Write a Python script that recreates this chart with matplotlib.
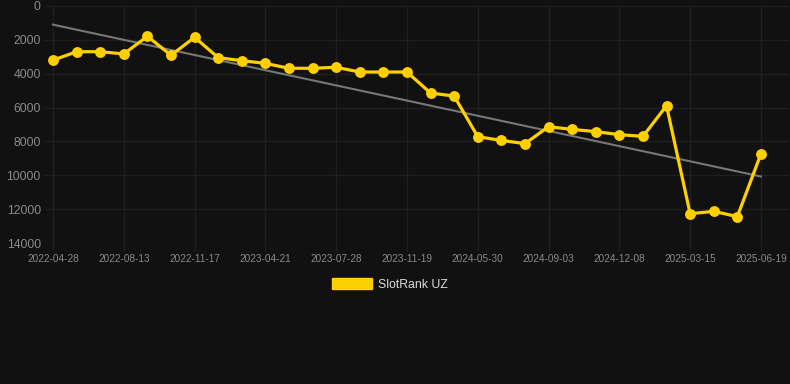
"""SlotRank UZ rank history with linear trend, dark theme."""
import matplotlib.pyplot as plt
import numpy as np
from matplotlib.patches import Patch

BG = "#111111"
GRID = "#1f1f1f"
TICK_TEXT = "#8a8a8a"
LINE_COLOR = "#ffd000"
TREND_COLOR = "#777777"

plt.rcParams["font.family"] = ["Liberation Sans", "DejaVu Sans"]

# one sample per category slot
ranks = [3200, 2700, 2700, 2830, 1790, 2910, 1850, 3050, 3230, 3390,
         3680, 3680, 3620, 3900, 3900, 3900, 5140, 5320, 7720, 7940,
         8130, 7130, 7290, 7420, 7600, 7700, 5890, 12270, 12130, 12440,
         8740]
tick_labels = ["2022-04-28", "2022-08-13", "2022-11-17", "2023-04-21",
               "2023-07-28", "2023-11-19", "2024-05-30", "2024-09-03",
               "2024-12-08", "2025-03-15", "2025-06-19"]
y_ticks = [0, 2000, 4000, 6000, 8000, 10000, 12000, 14000]


def main():
    idx = np.arange(len(ranks))
    slope, icpt = np.polyfit(idx, ranks, 1)

    fig = plt.figure(figsize=(7.9, 3.84), dpi=100, facecolor=BG)
    ax = fig.add_axes([45 / 790, 1 - 243 / 384, 744 / 790, 237 / 384])
    ax.set_facecolor(BG)
    for spine in ax.spines.values():
        spine.set_visible(False)

    ax.plot(idx, slope * idx + icpt, color=TREND_COLOR, linewidth=1.5, zorder=2)
    ax.plot(idx, ranks, color=LINE_COLOR, linewidth=2.3, marker="o",
            markersize=6.8, zorder=3, clip_on=False)

    ax.set_ylim(14000, 0)
    ax.set_yticks(y_ticks)
    ax.set_yticklabels([str(v) for v in y_ticks])
    ax.set_xlim(-0.34, 31.19)
    ax.set_xticks(idx[::3])
    ax.set_xticklabels(tick_labels)

    ax.grid(True, color=GRID, linewidth=1.0, zorder=0)
    ax.tick_params(axis="y", length=0, pad=3, labelsize=8.8, labelcolor=TICK_TEXT)
    ax.tick_params(axis="x", length=6, width=1.0, color=GRID, pad=2,
                   labelsize=7.2, labelcolor=TICK_TEXT)

    handle = Patch(facecolor=LINE_COLOR, edgecolor=LINE_COLOR, label="SlotRank UZ")
    leg = fig.legend(handles=[handle], loc="center",
                     bbox_to_anchor=(390 / 790, 1 - 284.5 / 384), frameon=False,
                     fontsize=8.8, handlelength=3.3, handleheight=0.9,
                     handletextpad=0.5)
    for text in leg.get_texts():
        text.set_color("#dddddd")

    fig.savefig("out.png", dpi=100, facecolor=BG)
    plt.close(fig)


if __name__ == "__main__":
    main()
